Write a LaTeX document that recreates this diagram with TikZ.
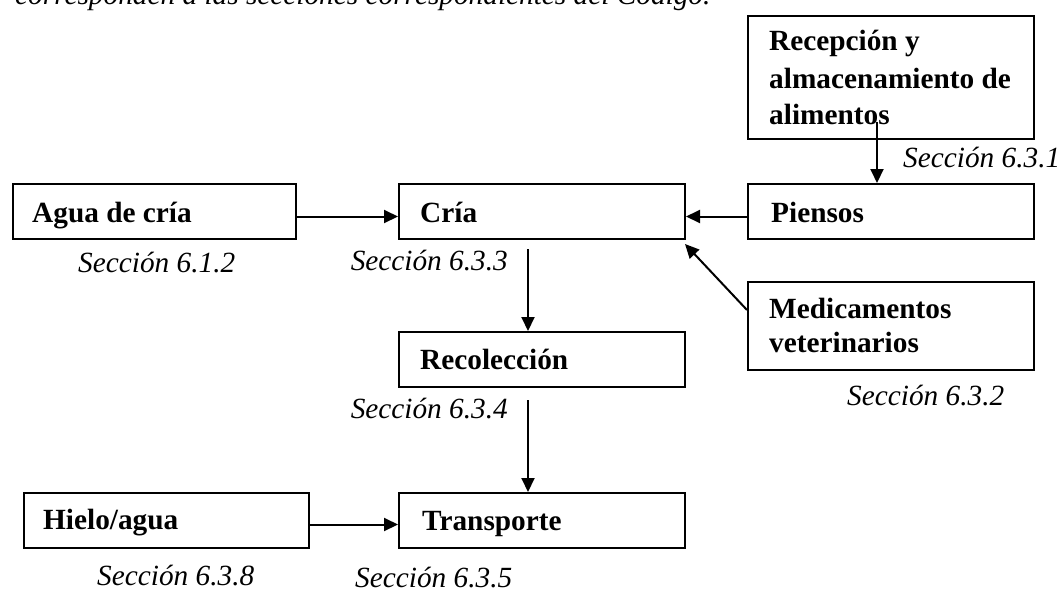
\documentclass[tikz,border=0pt]{standalone}
\usepackage{fontspec}
\setmainfont{Liberation Serif}
\usetikzlibrary{arrows.meta,calc}
\newcommand{\bxfont}{\fontsize{29.3}{36}\selectfont\bfseries}
\newcommand{\itfont}{\fontsize{29.3}{36}\selectfont\itshape}
\begin{document}
\begin{tikzpicture}[x=1pt,y=-1pt,
  box/.style={draw,line width=2pt,anchor=north west,inner sep=0pt,
    minimum height=#1,minimum width=286pt},
  box/.default=55pt,
  sec/.style={anchor=base west,inner sep=0pt,font=\itfont},
  lbl/.style={anchor=base west,inner sep=0pt,font=\bxfont},
  arr/.style={line width=2pt,-{Triangle[length=14pt,width=13pt]}}]
\useasboundingbox (0,0) rectangle (1060,592);
\clip (0,0) rectangle (1060,592);
\node[sec] (top) at (15,4) {corresponden a las secciones correspondientes del Código.};
% boxes
\node[box=123pt] (recep) at (747,15) {};
\node[box] (piensos) at (747,183) {};
\node[box,minimum width=283pt] (agua) at (12,183) {};
\node[box] (cria) at (398,183) {};
\node[box=88pt] (medic) at (747,281) {};
\node[box] (recol) at (398,331) {};
\node[box,minimum width=285pt] (hielo) at (23,492) {};
\node[box] (transp) at (398,492) {};
% labels
\node[lbl] (trecep) at (769,50) {Recepción y};
\node[lbl] (trecep2) at (769,88) {almacenamiento de};
\node[lbl] (trecep3) at (769,124) {alimentos};
\node[lbl] (tpiensos) at (771,222) {Piensos};
\node[lbl] (tagua) at (32,222) {Agua de cría};
\node[lbl] (tcria) at (420,222) {Cría};
\node[lbl] (tmedic) at (769,318) {Medicamentos};
\node[lbl] (tmedic2) at (769,352) {veterinarios};
\node[lbl] (trecol) at (420,369) {Recolección};
\node[lbl] (thielo) at (43,529) {Hielo/agua};
\node[lbl] (ttransp) at (422,530) {Transporte};
% section labels
\node[sec] (s631) at (903,167) {Sección 6.3.1};
\node[sec] (s612) at (78,272) {Sección 6.1.2};
\node[sec,anchor=base east] (s633) at (508,270) {Sección 6.3.3};
\node[sec] (s632) at (847,405) {Sección 6.3.2};
\node[sec,anchor=base east] (s634) at (508,418) {Sección 6.3.4};
\node[sec] (s638) at (97,585) {Sección 6.3.8};
\node[sec] (s635) at (355,587) {Sección 6.3.5};
% connectors
\coordinate (r1) at (877,122);
\draw[arr] (r1) -- (r1 |- piensos.north);
\draw[arr] ([yshift=-5pt]agua.east) -- ([yshift=-5pt]cria.west);
\draw[arr] ([yshift=-5pt]piensos.west) -- ([yshift=-5pt]cria.east);
\coordinate (m1) at (747,310);
\coordinate (m2) at (685,244);
\draw[arr] (m1) -- (m2);
\coordinate (c1) at (528,249);
\draw[arr] (c1) -- (c1 |- recol.north);
\coordinate (c2) at (528,400);
\draw[arr] (c2) -- (c2 |- transp.north);
\draw[arr] ([yshift=-4pt]hielo.east) -- ([yshift=-4pt]transp.west);
\end{tikzpicture}
\end{document}
